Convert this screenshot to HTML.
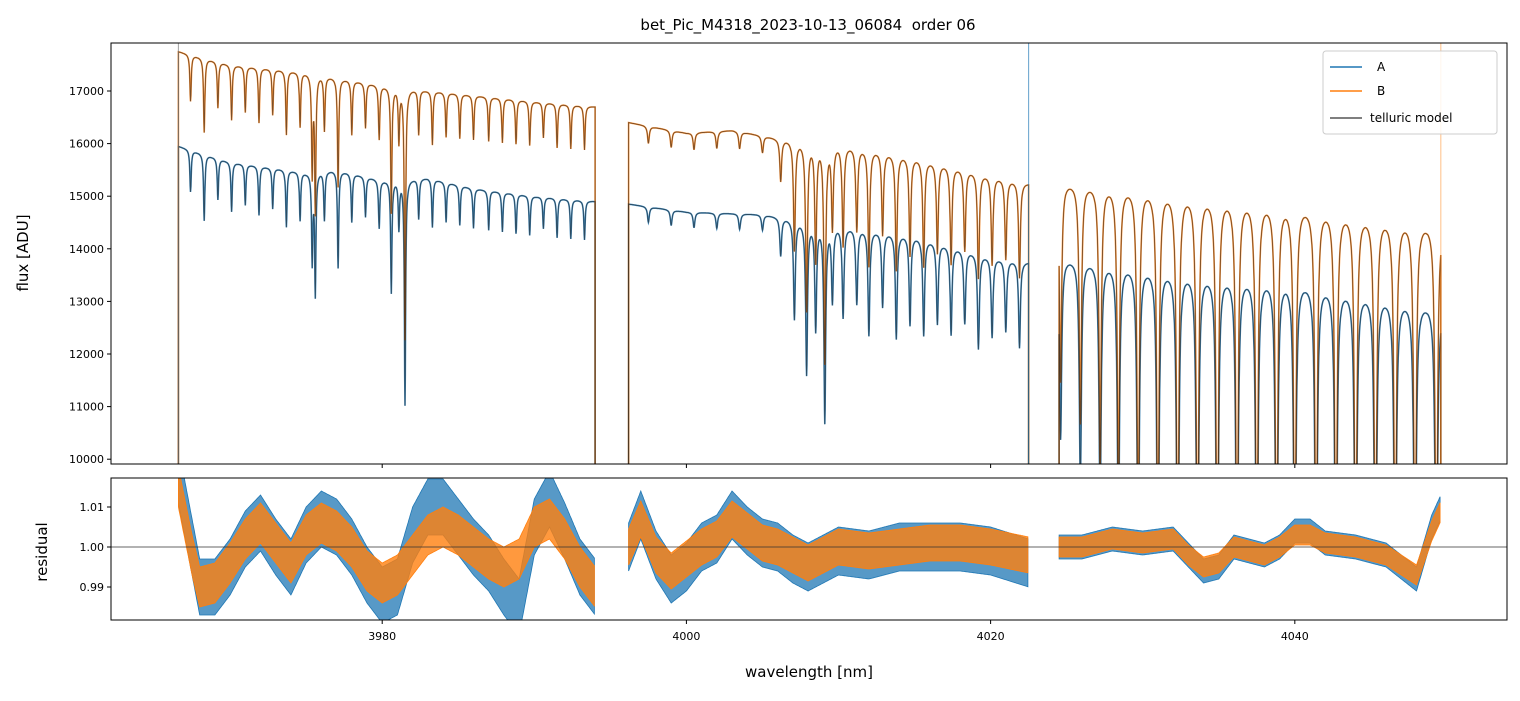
<!DOCTYPE html>
<html><head><meta charset="utf-8"><style>
body{margin:0;background:#fff;font-family:"Liberation Sans","DejaVu Sans",sans-serif}
svg text{font-family:"DejaVu Sans","Liberation Sans",sans-serif}
</style></head><body>
<svg id="c" width="1520" height="696" xmlns="http://www.w3.org/2000/svg">
<defs>
<clipPath id="cpTop"><rect x="111" y="43" width="1396" height="421"/></clipPath>
<clipPath id="cpBot"><rect x="111" y="478" width="1396" height="142"/></clipPath>
</defs>
<text x="808" y="30" font-size="15" text-anchor="middle" xml:space="preserve">bet_Pic_M4318_2023-10-13_06084  order 06</text>
<g id="gtop" clip-path="url(#cpTop)"></g>
<g id="gbot" clip-path="url(#cpBot)"></g>
<rect x="111" y="43" width="1396" height="421" fill="none" stroke="#000" stroke-width="1"/>
<rect x="111" y="478" width="1396" height="142" fill="none" stroke="#000" stroke-width="1"/>
<g id="gaxes"></g>
<text x="28" y="253" font-size="15" text-anchor="middle" transform="rotate(-90 28 253)">flux [ADU]</text>
<text x="47" y="552" font-size="15" text-anchor="middle" transform="rotate(-90 47 552)">residual</text>
<text x="809" y="677" font-size="15" text-anchor="middle">wavelength [nm]</text>
<g>
<rect x="1323" y="51" width="174" height="83" rx="3" fill="#fff" fill-opacity="0.85" stroke="#ccc"/>
<line x1="1330" y1="67" x2="1362" y2="67" stroke="#1f77b4" stroke-width="1.5"/>
<text x="1377" y="71" font-size="12">A</text>
<line x1="1330" y1="91" x2="1362" y2="91" stroke="#ff7f0e" stroke-width="1.5"/>
<text x="1377" y="95" font-size="12">B</text>
<line x1="1330" y1="118" x2="1362" y2="118" stroke="#555" stroke-width="1.5"/>
<text x="1370" y="122" font-size="12">telluric model</text>
</g>
</svg>
<script>
const xTicks=[3980,4000,4020,4040];
const yTicks=[10000,11000,12000,13000,14000,15000,16000,17000];
const rTicks=[0.99,1.00,1.01];
const segments=[[3966.6,3994.0],[3996.2,4022.5],[4024.5,4049.6]];
const contB=[[[3966.6,17750],[3970,17500],[3975,17350],[3980,17100],[3985,16950],[3990,16800],[3994,16700]],
 [[3996.2,16400],[4000,16200],[4003,16250],[4006,16100],[4010,16000],[4015,15750],[4020,15400],[4022.5,15250]],
 [[4024.5,15300],[4030,15200],[4035,15050],[4040,14900],[4045,14700],[4049.6,14500]]];
const contA=[[[3966.6,15950],[3970,15650],[3975,15450],[3977,15500],[3980,15300],[3983,15350],[3986,15150],[3990,15000],[3994,14900]],
 [[3996.2,14850],[4000,14700],[4005,14650],[4010,14450],[4015,14250],[4020,13850],[4022.5,13750]],
 [[4024.5,13850],[4030,13700],[4035,13550],[4040,13450],[4045,13200],[4049.6,12950]]];
const lineCenters=[3967.4,3968.3,3969.2,3970.1,3971.0,3971.9,3972.8,3973.7,3974.6,3975.4,3975.6,3976.2,3977.1,3978.0,3978.9,3979.8,3980.6,3981.1,3981.5,3982.4,3983.3,3984.2,3985.1,3986.0,3987.0,3987.9,3988.8,3989.7,3990.6,3991.5,3992.4,3993.3,
 3997.5,3999.0,4000.5,4002.0,4003.5,4005.0,4006.2,4007.1,4007.9,4008.5,4009.1,4009.6,4010.3,4011.2,4012.0,4012.9,4013.8,4014.7,4015.6,4016.5,4017.4,4018.3,4019.2,4020.1,4021.0,4021.9,
 4024.6,4025.9,4027.2,4028.4,4029.7,4031.0,4032.3,4033.6,4034.9,4036.2,4037.5,4038.8,4040.0,4041.4,4042.7,4044.0,4045.3,4046.6,4047.9,4049.3];
const lineDepths=[0.05,0.08,0.05,0.06,0.05,0.06,0.05,0.07,0.06,0.11,0.15,0.06,0.12,0.06,0.05,0.06,0.14,0.06,0.28,0.05,0.06,0.05,0.05,0.05,0.05,0.05,0.05,0.05,0.04,0.05,0.05,0.05,
 0.02,0.02,0.02,0.02,0.02,0.02,0.05,0.13,0.2,0.14,0.26,0.1,0.12,0.1,0.14,0.1,0.14,0.12,0.13,0.11,0.12,0.1,0.13,0.11,0.1,0.12,
 0.25,0.3,0.35,0.4,0.45,0.5,0.55,0.55,0.55,0.55,0.55,0.55,0.55,0.55,0.55,0.55,0.55,0.55,0.55,0.55];
const resA=[[[3966.6,1.018],[3967.5,1.0],[3968,0.99],[3969,0.99],[3970,0.995],[3971,1.002],[3972,1.006],[3973,1.0],[3974,0.995],[3975,1.003],[3976,1.007],[3977,1.005],[3978,1.0],[3979,0.993],[3980,0.988],[3981,0.99],[3982,1.003],[3983,1.01],[3984,1.01],[3985,1.005],[3986,1.0],[3987,0.996],[3988,0.99],[3989,0.985],[3990,1.005],[3991,1.012],[3992,1.004],[3993,0.995],[3994,0.99]],
 [[3996.2,1.0],[3997,1.008],[3998,0.998],[3999,0.992],[4000,0.995],[4001,1.0],[4002,1.002],[4003,1.008],[4004,1.004],[4005,1.001],[4006,1.0],[4007,0.997],[4008,0.995],[4010,0.999],[4012,0.998],[4014,1.0],[4016,1.0],[4018,1.0],[4020,0.999],[4022.5,0.996]],
 [[4024.5,1.0],[4026,1.0],[4028,1.002],[4030,1.001],[4032,1.002],[4033,0.998],[4034,0.994],[4035,0.995],[4036,1.0],[4037,0.999],[4038,0.998],[4039,1.0],[4040,1.004],[4041,1.004],[4042,1.001],[4044,1.0],[4046,0.998],[4048,0.992],[4049,1.005],[4049.6,1.01]]];
const resB=[[[3966.6,1.015],[3967.5,0.998],[3968,0.99],[3969,0.991],[3970,0.996],[3971,1.002],[3972,1.006],[3973,1.001],[3974,0.996],[3975,1.003],[3976,1.006],[3977,1.004],[3978,1.0],[3979,0.994],[3980,0.991],[3981,0.993],[3982,0.998],[3983,1.003],[3984,1.005],[3985,1.003],[3986,1.0],[3987,0.997],[3988,0.995],[3989,0.997],[3990,1.005],[3991,1.007],[3992,1.002],[3993,0.995],[3994,0.99]],
 [[3996.2,1.0],[3997,1.007],[3998,0.998],[3999,0.994],[4000,0.997],[4001,1.0],[4002,1.002],[4003,1.007],[4004,1.004],[4005,1.001],[4006,1.0],[4007,0.998],[4008,0.996],[4010,1.0],[4012,0.999],[4014,1.0],[4016,1.001],[4018,1.001],[4020,1.0],[4022.5,0.998]],
 [[4024.5,1.0],[4026,1.0],[4028,1.002],[4030,1.001],[4032,1.002],[4033,0.998],[4034,0.995],[4035,0.996],[4036,1.0],[4037,0.999],[4038,0.998],[4039,1.0],[4040,1.003],[4041,1.003],[4042,1.001],[4044,1.0],[4046,0.998],[4048,0.993],[4049,1.004],[4049.6,1.009]]];

const NS="http://www.w3.org/2000/svg";
const X0=3962.17,X1=4053.95;
const xs=w=>111+(w-X0)/(X1-X0)*1396;
const ys=f=>91+(17000-f)/1000*52.6;
const yr=r=>547-(r-1)*4000;
function interp(pts,x){if(x<=pts[0][0])return pts[0][1];for(let i=1;i<pts.length;i++){if(x<=pts[i][0]){const a=pts[i-1],b=pts[i];return a[1]+(b[1]-a[1])*(x-a[0])/(b[0]-a[0]);}}return pts[pts.length-1][1];}
function lwidth(c){return c<3995?0.05:(c<4023?0.07:0.085);}
function trans(x){let t=1;for(let i=0;i<lineCenters.length;i++){const w=lwidth(lineCenters[i]);const u=(x-lineCenters[i])/w;if(Math.abs(u)<40)t*=1-lineDepths[i]/(1+u*u);}return t;}
function mk(tag,attrs,parent){const e=document.createElementNS(NS,tag);for(const k in attrs)e.setAttribute(k,attrs[k]);parent.appendChild(e);return e;}
const gTop=document.getElementById('gtop'),gBot=document.getElementById('gbot'),gAxes=document.getElementById('gaxes');
function specPath(cont,si){const a=segments[si][0],b=segments[si][1];let d='M'+xs(a).toFixed(1)+',700';for(let x=a;x<=b;x+=0.02){d+='L'+xs(x).toFixed(1)+','+ys(interp(cont[si],x)*trans(x)).toFixed(1);}d+='L'+xs(b).toFixed(1)+',700';return d;}
for(let s=0;s<3;s++){
 const pa=mk('path',{d:specPath(contA,s),fill:'none',stroke:'#1f77b4','stroke-width':1.6,'stroke-opacity':0.85},gTop);
 
 
 const pb=mk('path',{d:specPath(contB,s),fill:'none',stroke:'#ff7f0e','stroke-width':1.6,'stroke-opacity':0.85},gTop);
 
 
}
for(let s=0;s<3;s++){
 const ma=mk('path',{d:specPath(contA,s),fill:'none',stroke:'#222','stroke-width':0.9,'stroke-opacity':0.6},gTop);
 
 
 const mb=mk('path',{d:specPath(contB,s),fill:'none',stroke:'#222','stroke-width':0.9,'stroke-opacity':0.6},gTop);
 
 
}
const v1=mk('line',{x1:xs(4022.5),x2:xs(4022.5),y1:43,y2:464,stroke:'#1f77b4','stroke-width':1,'stroke-opacity':0.7},gTop);


const v2=mk('line',{x1:xs(4049.6),x2:xs(4049.6),y1:43,y2:464,stroke:'#ff7f0e','stroke-width':1,'stroke-opacity':0.5},gTop);


const v3=mk('line',{x1:xs(3966.6),x2:xs(3966.6),y1:43,y2:464,stroke:'#777','stroke-width':1,'stroke-opacity':0.7},gTop);


function band(res,si,hw){const a=segments[si][0],b=segments[si][1];let up='',dn=[];for(let x=a;x<=b;x+=0.05){const v=interp(res[si],x);up+=(up?'L':'M')+xs(x).toFixed(1)+','+yr(v+hw).toFixed(1);dn.push(xs(x).toFixed(1)+','+yr(v-hw).toFixed(1));}return up+'L'+dn.reverse().join('L')+'Z';}
const hwA=[0.007,0.006,0.003],hwB=[0.005,0.0045,0.0025];
for(let s=0;s<3;s++){
 const ba=mk('path',{d:band(resA,s,hwA[s]),fill:'#1f77b4','fill-opacity':0.75,stroke:'#1f77b4','stroke-width':0.8},gBot);
 
 
}
for(let s=0;s<3;s++){
 const bb=mk('path',{d:band(resB,s,hwB[s]),fill:'#ff7f0e','fill-opacity':0.8,stroke:'#ff7f0e','stroke-width':0.8},gBot);
 
 
}
const h1=mk('line',{x1:111,x2:1507,y1:yr(1),y2:yr(1),stroke:'#333','stroke-width':0.8},gBot);


xTicks.forEach(t=>{const x=xs(t);
 const a=mk('line',{x1:x,x2:x,y1:464,y2:468,stroke:'#000'},gAxes);
 
 
 const b=mk('line',{x1:x,x2:x,y1:620,y2:624,stroke:'#000'},gAxes);
 
 
 const tx=mk('text',{x:x,y:640,'font-size':11,'text-anchor':'middle'},gAxes);tx.textContent=t;
 
 
});
yTicks.forEach(t=>{const y=ys(t);
 const a=mk('line',{x1:107,x2:111,y1:y,y2:y,stroke:'#000'},gAxes);
 
 
 const tx=mk('text',{x:104,y:y+4,'font-size':11,'text-anchor':'end'},gAxes);tx.textContent=t;
 
 
});
rTicks.forEach(t=>{const y=yr(t);
 const a=mk('line',{x1:107,x2:111,y1:y,y2:y,stroke:'#000'},gAxes);
 
 
 const tx=mk('text',{x:104,y:y+4,'font-size':11,'text-anchor':'end'},gAxes);tx.textContent=t.toFixed(2);
 
 
});
</script>
</body></html>
